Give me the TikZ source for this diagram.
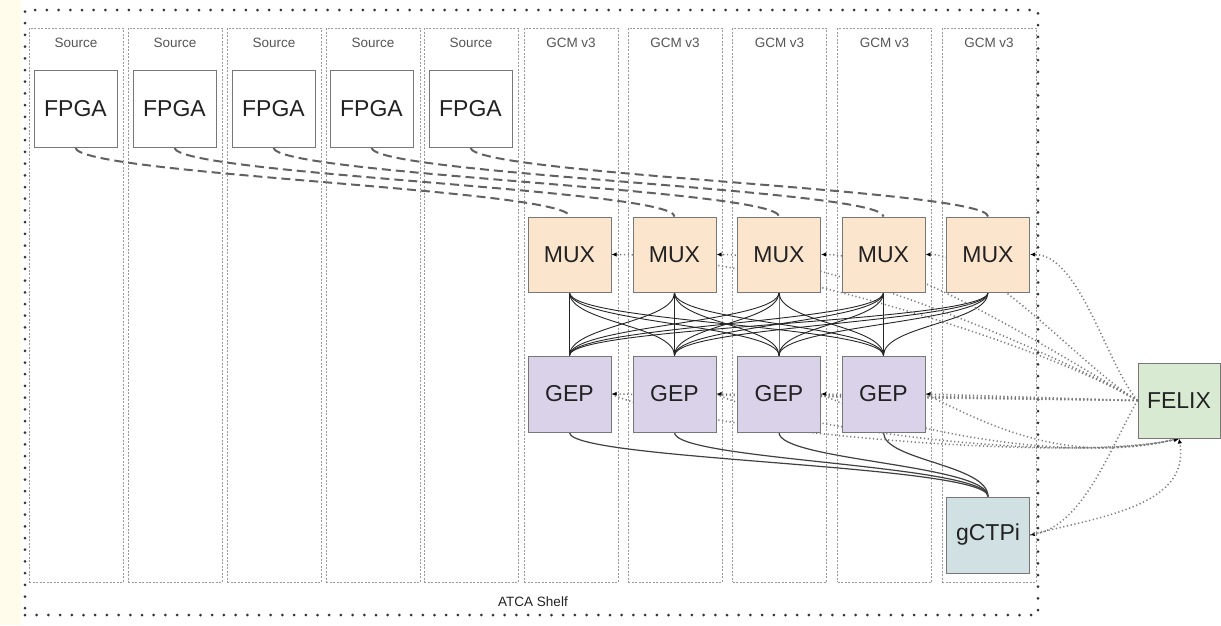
\documentclass[tikz,border=0pt]{standalone}
\usepackage{fontspec}
\setmainfont{Liberation Sans}
\usetikzlibrary{arrows.meta,calc}

\definecolor{muxfill}{HTML}{FCE5CD}
\definecolor{gepfill}{HTML}{D9D2E9}
\definecolor{ctpfill}{HTML}{D0E0E3}
\definecolor{felixfill}{HTML}{D9EAD3}
\definecolor{edgegray}{HTML}{777777}
\definecolor{slotgray}{HTML}{9A9A9A}
\definecolor{dotgray}{HTML}{7A7A7A}
\definecolor{shelfdot}{HTML}{333333}
\definecolor{cream}{HTML}{FFFCEB}
\definecolor{labeltext}{HTML}{222222}
\definecolor{smalltext}{HTML}{555555}

\pgfdeclarelayer{back}
\pgfdeclarelayer{links}
\pgfsetlayers{back,links,main}

\begin{document}
\begin{tikzpicture}[x=1pt,y=1pt,
  board/.style={draw=edgegray, line width=1pt, minimum width=83pt, minimum height=76pt,
    inner sep=0pt, text=labeltext, font=\fontsize{23}{27}\selectfont},
  fpga/.style={board, fill=white, minimum height=77pt},
  mux/.style={board, fill=muxfill, minimum height=75pt},
  gep/.style={board, fill=gepfill},
  ctp/.style={board, fill=ctpfill},
  flx/.style={board, fill=felixfill, minimum width=82pt, minimum height=75pt},
  slotbox/.style={draw=slotgray, line width=0.9pt, dash pattern=on 2pt off 1.5pt,
    minimum width=94pt, minimum height=554pt, inner sep=0pt},
  slotlabel/.style={text=smalltext, font=\fontsize{13.5}{16}\selectfont, inner sep=0pt},
  shelfbox/.style={draw=shelfdot, line width=3pt, line cap=round,
    dash pattern=on 0pt off 11.7pt, minimum width=1013pt, minimum height=605pt, inner sep=0pt},
  fibre/.style={draw=black!62, line width=2pt, dash pattern=on 9pt off 5pt},
  mesh/.style={draw=black!85, line width=0.9pt},
  ctplink/.style={draw=black!75, line width=1.2pt},
  ctrl/.style={draw=dotgray, line width=1.5pt, dash pattern=on 1.2pt off 2.6pt,
    -{Latex[length=5pt,width=4.5pt,color=black]}},
]
\useasboundingbox (0,0) rectangle (1221,-625);

% page, shelf and slots
\begin{pgfonlayer}{back}
  \fill[white] (0,0) rectangle (1221,-625);
  \fill[cream] (0,0) rectangle (21,-625);
  \node[shelfbox] (shelf) at (531.5,-312.5) {};
  \node[slotlabel, text=labeltext] (shelflab) at (533,-602) {ATCA Shelf};
  \foreach \i/\x in {1/76,2/175,3/274,4/373,5/471}{
    \node[slotbox] (slot\i) at (\x,-305) {};
    \node[slotlabel] (slotlab\i) at (\x,-43) {Source};
  }
  \foreach \i/\x in {6/571,7/675,8/779.5,9/884.5,10/989}{
    \node[slotbox] (slot\i) at (\x,-305) {};
    \node[slotlabel] (slotlab\i) at (\x,-43) {GCM v3};
  }
\end{pgfonlayer}

% boards
\foreach \i/\x in {1/75.5,2/174.5,3/273.5,4/371.5,5/470.5}
  \node[fpga] (fpga\i) at (\x,-108.5) {FPGA};
\foreach \i/\x in {1/569.5,2/674.5,3/779,4/883.5,5/988}
  \node[mux] (mux\i) at (\x,-254.5) {MUX};
\foreach \i/\x in {1/569.5,2/674.5,3/779,4/883.5}
  \node[gep] (gep\i) at (\x,-394) {GEP};
\node[ctp] (gctpi) at (988,-535) {gCTPi};
\node[flx] (felix) at (1179,-400.5) {FELIX};

% links, kept under the boards
\begin{pgfonlayer}{links}
  % optical fibres from the source FPGAs to the MUX stage
  \foreach \i in {1,...,5}
    \draw[fibre] (fpga\i.south) .. controls +(0,-27) and +(0,27) .. (mux\i.north);
  % full MUX -> GEP mesh
  \foreach \i in {1,...,5}
    \foreach \j in {1,...,4}
      \draw[mesh] (mux\i.south) .. controls +(0,-30) and +(0,30) .. (gep\j.north);
  % GEP -> gCTPi
  \foreach \j in {1,...,4}
    \draw[ctplink] (gep\j.south) .. controls +(0,-28) and +(0,32) .. (gctpi.north);
  % FELIX control links
  \foreach \i in {1,...,4}
    \draw[ctrl] (felix.west) to[out=150,in=0,looseness=0.6] (mux\i.east);
  \draw[ctrl] (felix.west) to[out=130,in=0,looseness=0.7] (mux5.east);
  \foreach \j in {1,...,4}
    \draw[ctrl] (felix.west) -- (gep\j.east);
  \foreach \j in {1,...,4}
    \draw[ctrl] (gep\j.east) .. controls +(70,-35) and +(-110,-26) .. (felix.south);
  \draw[ctrl] (felix.west) to[out=-120,in=10,looseness=0.8] (gctpi.east);
  \draw[ctrl] (gctpi.east) to[out=15,in=-80] (felix.south);
\end{pgfonlayer}
\end{tikzpicture}
\end{document}
